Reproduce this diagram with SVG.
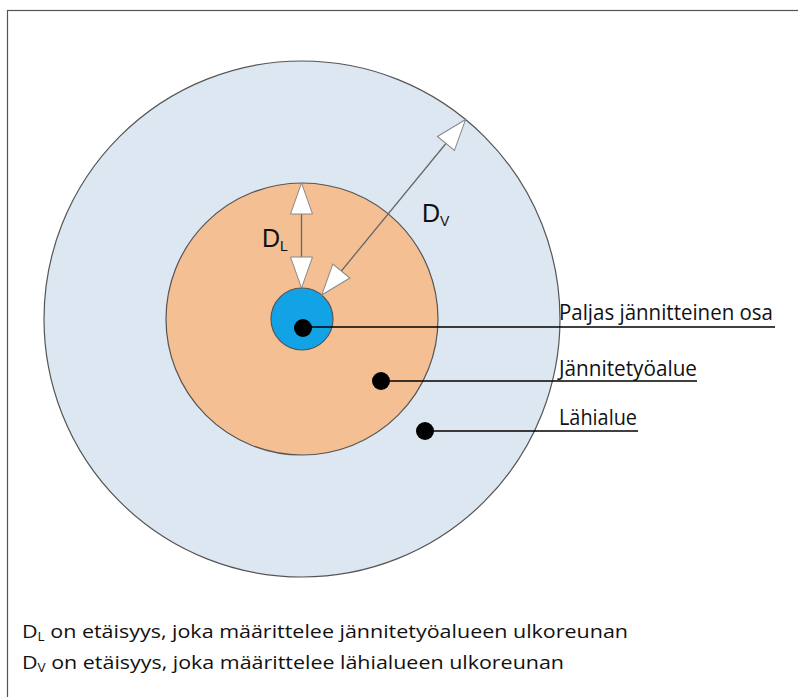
<svg xmlns="http://www.w3.org/2000/svg" width="798" height="697" viewBox="0 0 798 697">
  <style>
    .zone { stroke: #555; stroke-width: 1.2; }
    .lbl { font-family: "Open Sans", "Liberation Sans", sans-serif; font-size: 21px; fill: #111; }
    .note { font-family: "Open Sans", "Liberation Sans", sans-serif; font-size: 19px; fill: #111; }
    .dim { font-family: "Liberation Sans", Arial, sans-serif; fill: #111; }
    .lead { stroke: #000; stroke-width: 1.4; fill: none; }
    .dot { fill: #000; }
    .measure { stroke: #666; stroke-width: 1.3; fill: none; marker-start: url(#tip); marker-end: url(#tip); }
  </style>
  <defs>
    <marker id="tip" markerUnits="userSpaceOnUse" markerWidth="34" markerHeight="24" viewBox="-1 -1 34 24" refX="31" refY="11" orient="auto-start-reverse">
      <path d="M0,0 L31,11 L0,22 Z" fill="#fff" stroke="#888" stroke-width="1"/>
    </marker>
  </defs>

  <!-- frame -->
  <rect x="7.5" y="10.5" width="800" height="700" fill="#fff" stroke="#555" stroke-width="1.2"/>

  <!-- zones -->
  <g id="lahialue">
    <circle class="zone" cx="302" cy="319" r="258" fill="#dde7f1"/>
  </g>
  <g id="jannitetyoalue">
    <circle class="zone" cx="302" cy="319" r="136" fill="#f5bf94"/>
  </g>
  <g id="paljas-osa">
    <circle class="zone" cx="302" cy="319" r="31" fill="#11a3e6"/>
  </g>

  <!-- distance arrows and leader lines -->
  <g id="connectors">
    <line class="measure" x1="301.5" y1="183" x2="301.5" y2="288"/>
    <line class="measure" x1="465.6" y1="119.5" x2="321.7" y2="295"/>

    <line class="lead" x1="303" y1="327" x2="775" y2="327"/>
    <circle class="dot" cx="303" cy="328" r="9"/>
    <line class="lead" x1="381" y1="381" x2="697" y2="381"/>
    <circle class="dot" cx="381" cy="381" r="9"/>
    <line class="lead" x1="424" y1="431" x2="638" y2="431"/>
    <circle class="dot" cx="425" cy="431" r="9"/>
  </g>

  <!-- distance labels -->
  <g id="label-dl">
    <text class="dim" x="262" y="247" font-size="25">D<tspan font-size="14" dy="4">L</tspan></text>
  </g>
  <g id="label-dv">
    <text class="dim" x="422" y="222" font-size="25">D<tspan font-size="14" dy="4">V</tspan></text>
  </g>

  <!-- zone labels -->
  <g id="label-paljas">
    <text class="lbl" x="559" y="320" textLength="214" lengthAdjust="spacingAndGlyphs">Paljas jännitteinen osa</text>
  </g>
  <g id="label-janniteyo">
    <text class="lbl" x="559" y="376" textLength="138" lengthAdjust="spacingAndGlyphs">Jännitetyöalue</text>
  </g>
  <g id="label-lahi">
    <text class="lbl" x="559" y="425" textLength="78" lengthAdjust="spacingAndGlyphs">Lähialue</text>
  </g>

  <!-- explanations -->
  <g id="notes">
    <text class="note" x="22" y="638" textLength="606" lengthAdjust="spacingAndGlyphs">D<tspan font-size="12" dy="3">L</tspan><tspan dy="-3"> on etäisyys, joka määrittelee jännitetyöalueen ulkoreunan</tspan></text>
    <text class="note" x="22" y="669" textLength="542" lengthAdjust="spacingAndGlyphs">D<tspan font-size="12" dy="3">V</tspan><tspan dy="-3"> on etäisyys, joka määrittelee lähialueen ulkoreunan</tspan></text>
  </g>
</svg>
